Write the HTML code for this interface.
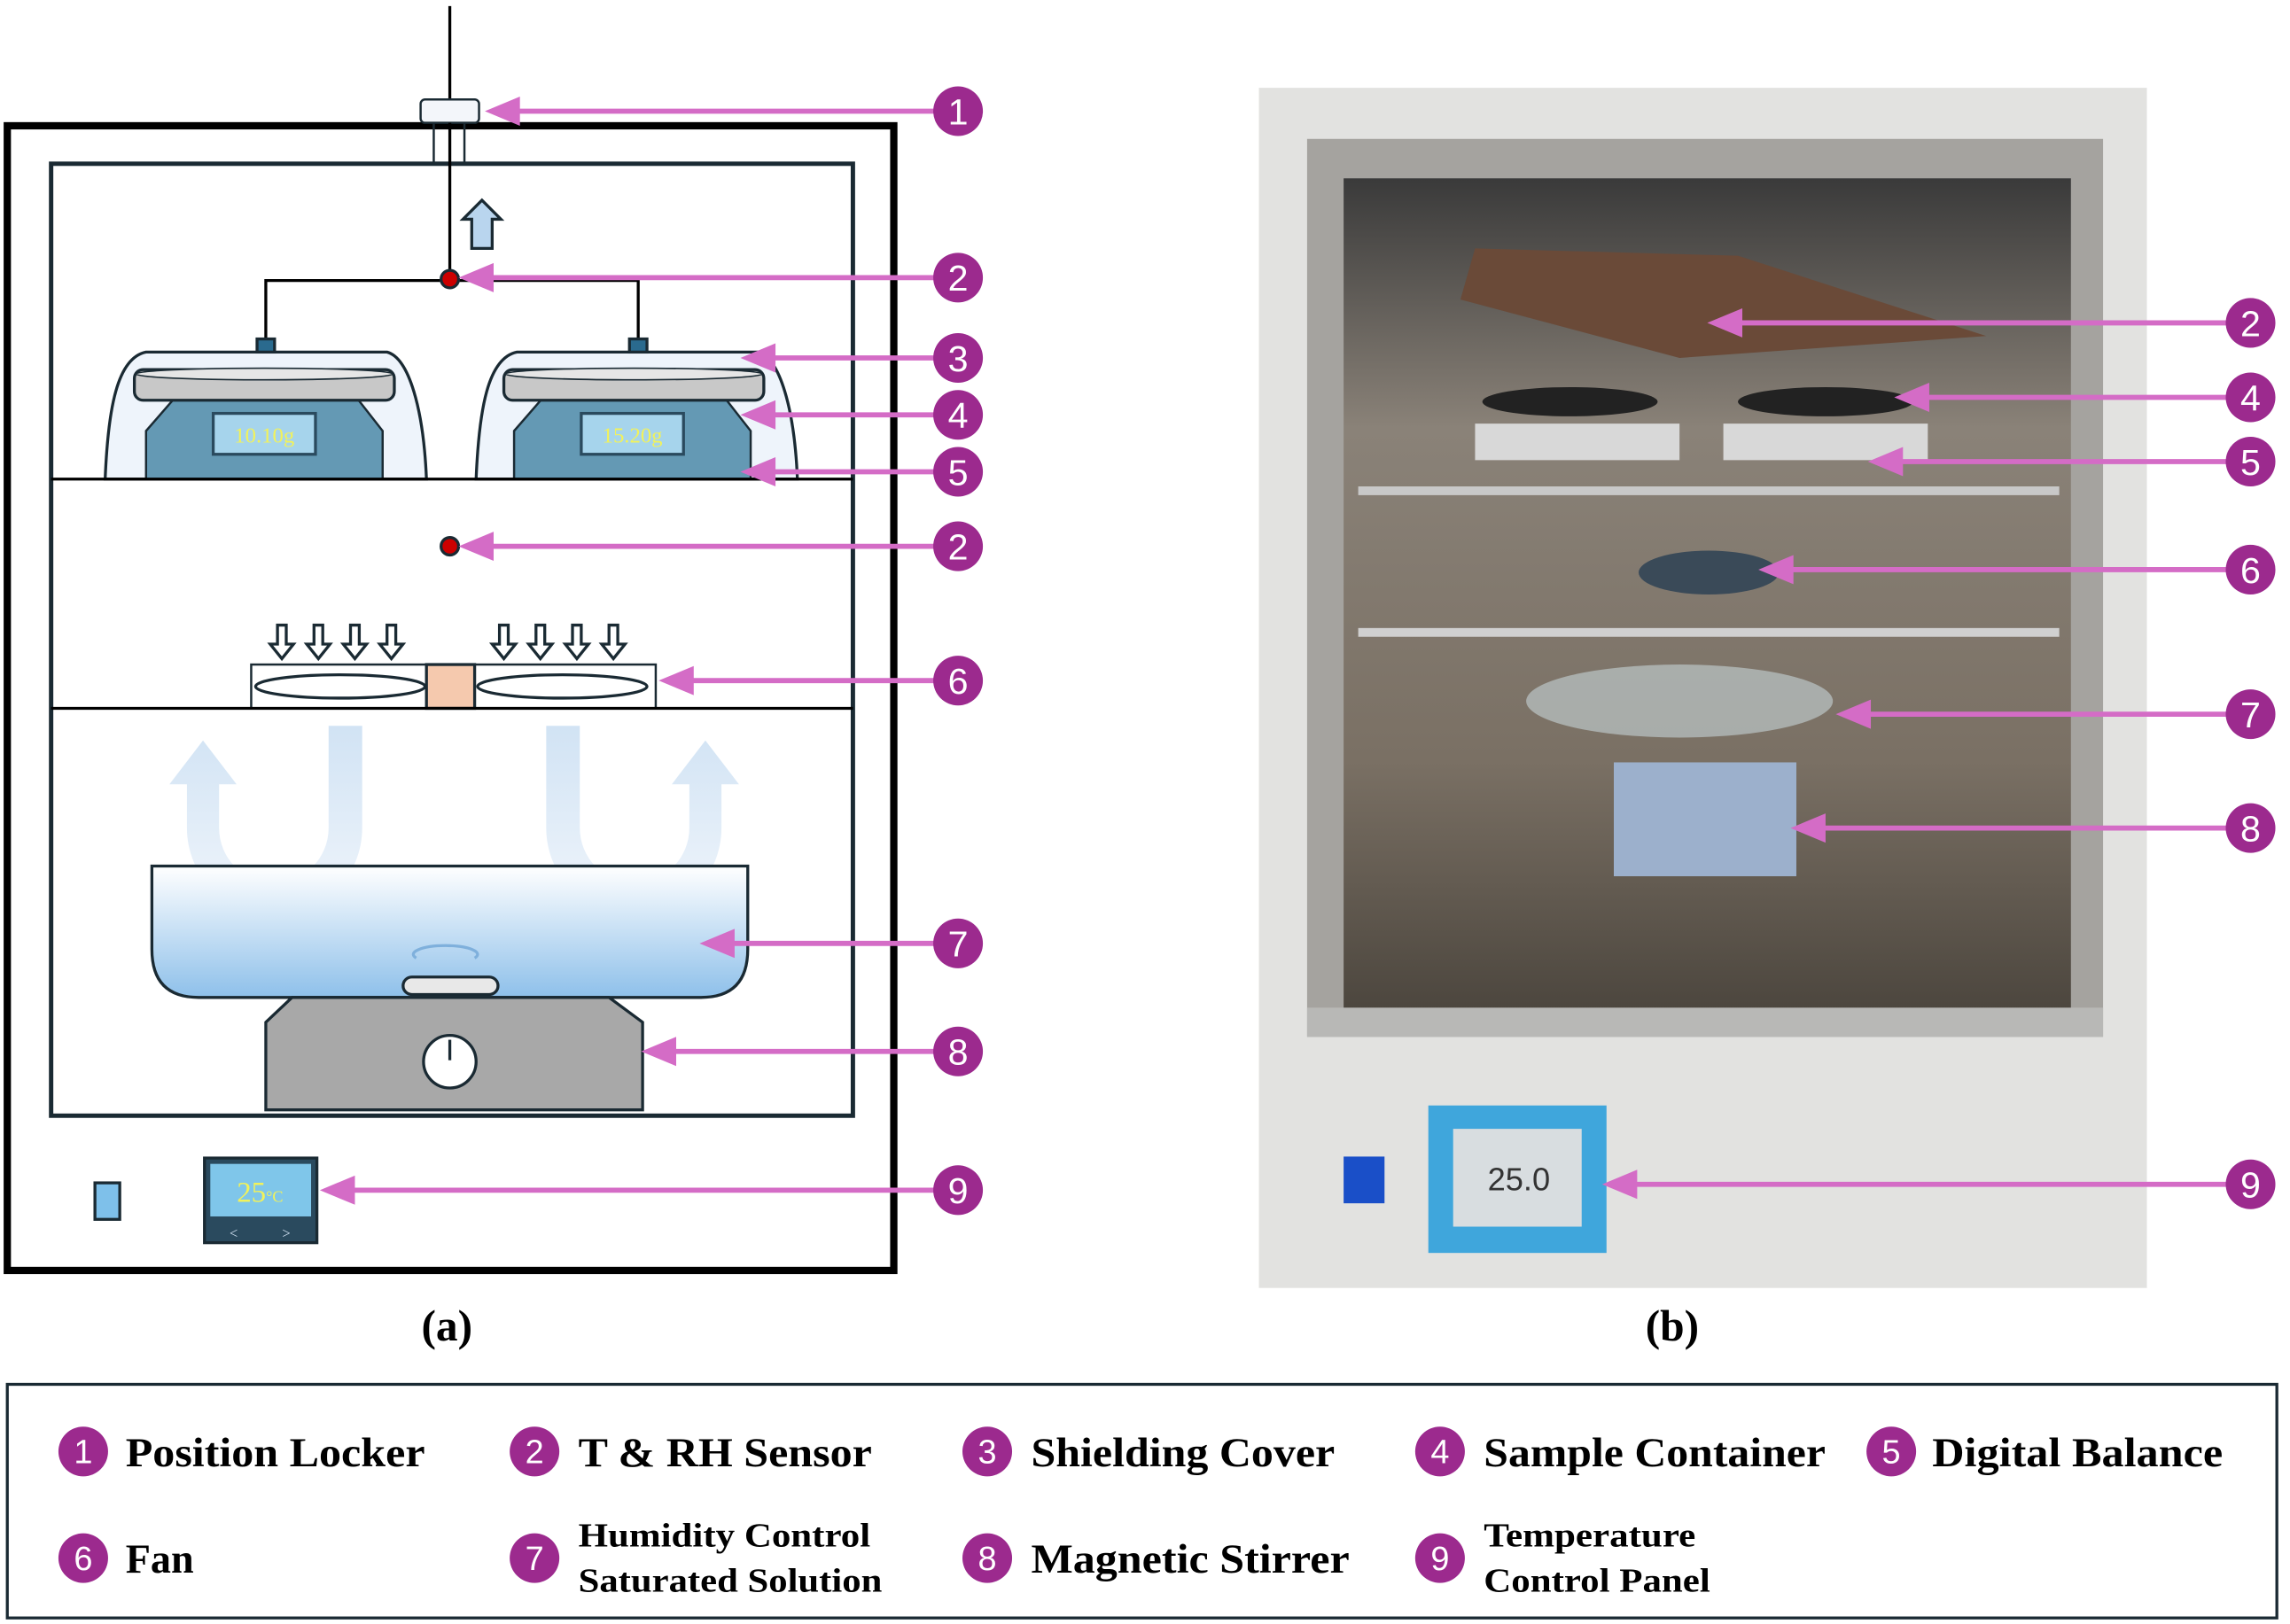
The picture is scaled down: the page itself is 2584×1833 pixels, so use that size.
<!DOCTYPE html>
<html><head><style>html,body{margin:0;padding:0;background:#fff}svg{display:block}</style></head><body>
<svg width="2584" height="1833" viewBox="0 0 1568 1112" xmlns="http://www.w3.org/2000/svg" font-family="Liberation Serif, serif">
<defs>
<linearGradient id="water" x1="0" y1="0" x2="0" y2="1"><stop offset="0" stop-color="#ffffff"/><stop offset="1" stop-color="#8ec0ea"/></linearGradient>
<linearGradient id="flow" x1="0" y1="0" x2="0" y2="1"><stop offset="0" stop-color="#c9def2"/><stop offset="1" stop-color="#eef4fb"/></linearGradient>
<linearGradient id="inside" x1="0" y1="0" x2="0" y2="1"><stop offset="0" stop-color="#3a3a3a"/><stop offset="0.3" stop-color="#8a8278"/><stop offset="0.7" stop-color="#7a7064"/><stop offset="1" stop-color="#4c463e"/></linearGradient>
</defs>
<!-- (a) diagram -->
<line x1="308" y1="4" x2="308" y2="70" stroke="#000" stroke-width="2"/>
<rect x="5" y="86" width="607" height="784" fill="none" stroke="#000" stroke-width="5"/>
<rect x="35" y="112" width="549" height="652" fill="none" stroke="#1a2a33" stroke-width="3"/>
<rect x="288" y="68" width="40" height="16" rx="3" fill="#f3f6fa" stroke="#1a2a33" stroke-width="1.5"/>
<line x1="297" y1="84" x2="297" y2="112" stroke="#1a2a33" stroke-width="1.5"/><line x1="318" y1="84" x2="318" y2="112" stroke="#1a2a33" stroke-width="1.5"/>
<line x1="308" y1="84" x2="308" y2="190" stroke="#000" stroke-width="2"/>
<path d="M323,170 v-20 h-6 l13,-13 l13,13 h-6 v20 z" fill="#b9d5ee" stroke="#1a2a33" stroke-width="2"/>
<path d="M182,232 V192 H437 V232" fill="none" stroke="#000" stroke-width="2"/>
<circle cx="308" cy="191" r="6" fill="#c00" stroke="#1a2a33" stroke-width="2"/>
<g stroke="#1a2a33" stroke-width="2">
<path d="M72,328 C74,280 80,245 100,241 L265,241 C280,245 290,280 292,328 Z" fill="#eef4fb"/>
<path d="M326,328 C328,280 334,245 354,241 L519,241 C534,245 544,280 546,328 Z" fill="#eef4fb"/>
<rect x="176" y="232" width="12" height="9" fill="#2a6a8e"/><rect x="431" y="232" width="12" height="9" fill="#2a6a8e"/>
<path d="M100,328 V295 L120,272 H244 L262,295 V328 Z" fill="#6499b4" stroke-width="1.5"/>
<path d="M352,328 V295 L372,272 H496 L514,295 V328 Z" fill="#6499b4" stroke-width="1.5"/>
<rect x="92" y="253" width="178" height="21" rx="6" fill="#c8c8c8"/><ellipse cx="181" cy="256" rx="88" ry="4" fill="#e6e6e6" stroke-width="1"/>
<rect x="345" y="253" width="178" height="21" rx="6" fill="#c8c8c8"/><ellipse cx="434" cy="256" rx="88" ry="4" fill="#e6e6e6" stroke-width="1"/>
<rect x="146" y="283" width="70" height="28" fill="#a6d4ec" stroke="#2a4a5e"/>
<rect x="398" y="283" width="70" height="28" fill="#a6d4ec" stroke="#2a4a5e"/>
</g>
<text x="181" y="303" font-size="15" fill="#f2f25a" text-anchor="middle">10.10g</text>
<text x="433" y="303" font-size="15" fill="#f2f25a" text-anchor="middle">15.20g</text>
<line x1="35" y1="328" x2="584" y2="328" stroke="#000" stroke-width="2"/>
<circle cx="308" cy="374" r="6" fill="#c00" stroke="#1a2a33" stroke-width="2"/>
<g stroke="#1a2a33" stroke-width="2" fill="#fff">
<path d="M190,428 v13 h-5 l8,10 l8,-10 h-5 v-13 z"/><path d="M215,428 v13 h-5 l8,10 l8,-10 h-5 v-13 z"/><path d="M240,428 v13 h-5 l8,10 l8,-10 h-5 v-13 z"/><path d="M265,428 v13 h-5 l8,10 l8,-10 h-5 v-13 z"/>
<path d="M342,428 v13 h-5 l8,10 l8,-10 h-5 v-13 z"/><path d="M367,428 v13 h-5 l8,10 l8,-10 h-5 v-13 z"/><path d="M392,428 v13 h-5 l8,10 l8,-10 h-5 v-13 z"/><path d="M417,428 v13 h-5 l8,10 l8,-10 h-5 v-13 z"/>
<rect x="172" y="455" width="277" height="30" stroke-width="1.5"/>
<ellipse cx="233" cy="470" rx="58" ry="8"/><ellipse cx="385" cy="470" rx="58" ry="8"/>
<rect x="292" y="455" width="33" height="30" fill="#f5c9ae"/>
</g>
<line x1="35" y1="485" x2="584" y2="485" stroke="#000" stroke-width="2"/>
<g fill="url(#flow)" opacity="0.85">
<path d="M225,497 h23 v70 a60,60 0 0 1 -120,0 v-30 h-12 l23,-30 l23,30 h-12 v30 a37,37 0 0 0 75,0 z"/>
<path d="M374,497 h23 v70 a37,37 0 0 0 75,0 v-30 h-12 l23,-30 l23,30 h-12 v30 a60,60 0 0 1 -120,0 z"/>
</g>
<path d="M104,593 H512 V650 Q512,683 480,683 H136 Q104,683 104,650 Z" fill="url(#water)" stroke="#1a2a33" stroke-width="2"/>
<path d="M182,700 L200,683 H417 L440,700 V760 H182 Z" fill="#a8a8a8" stroke="#1a2a33" stroke-width="2"/>
<circle cx="308" cy="727" r="18" fill="#fff" stroke="#1a2a33" stroke-width="2"/><line x1="308" y1="712" x2="308" y2="726" stroke="#1a2a33" stroke-width="2"/>
<rect x="276" y="669" width="65" height="12" rx="6" fill="#e8e8e8" stroke="#1a2a33" stroke-width="2"/>
<path d="M285,656 a22,6 0 1 1 40,0" fill="none" stroke="#7fb0dc" stroke-width="2"/>
<rect x="65" y="810" width="17" height="25" fill="#7ec0ea" stroke="#1a2a33" stroke-width="2"/>
<rect x="140" y="793" width="77" height="58" fill="#2a4a5e" stroke="#1a2a33" stroke-width="2"/>
<rect x="144" y="797" width="69" height="36" fill="#7fc6ea"/>
<text x="178" y="823" font-size="20" fill="#f2f25a" text-anchor="middle">25<tspan font-size="11">°C</tspan></text>
<text x="160" y="848" font-size="10" fill="#cde" text-anchor="middle">&lt;</text><text x="196" y="848" font-size="10" fill="#cde" text-anchor="middle">&gt;</text>
<!-- (b) photo approximation -->
<rect x="862" y="60" width="608" height="822" fill="#e2e2e0"/>
<rect x="895" y="95" width="545" height="615" fill="#a5a39f"/>
<rect x="920" y="122" width="498" height="570" fill="url(#inside)"/>
<polygon points="1010,170 1190,175 1360,230 1150,245 1000,205" fill="#6a4a38"/>
<rect x="930" y="333" width="480" height="6" fill="#c8c8c8"/>
<rect x="930" y="430" width="480" height="6" fill="#d0d0d0"/>
<rect x="1010" y="290" width="140" height="25" fill="#d8d8d8"/><rect x="1180" y="290" width="140" height="25" fill="#d8d8d8"/>
<ellipse cx="1075" cy="275" rx="60" ry="10" fill="#222"/><ellipse cx="1250" cy="275" rx="60" ry="10" fill="#222"/>
<ellipse cx="1170" cy="392" rx="48" ry="15" fill="#3a4a58"/>
<ellipse cx="1150" cy="480" rx="105" ry="25" fill="#bcc6c8" opacity="0.7"/>
<rect x="1105" y="522" width="125" height="78" fill="#9cb0cc"/>
<rect x="895" y="690" width="545" height="20" fill="#b8b8b6"/>
<rect x="920" y="792" width="28" height="32" fill="#1a4fc8"/>
<rect x="978" y="757" width="122" height="101" fill="#3fa6dc"/>
<rect x="995" y="773" width="88" height="67" fill="#d8dde0"/>
<text x="1040" y="815" font-size="22" fill="#333" text-anchor="middle" font-family="Liberation Sans, sans-serif">25.0</text>
<!-- callouts -->
<g stroke="#d46cc6" stroke-width="3.5">
<line x1="640" y1="76" x2="355" y2="76"/><line x1="640" y1="190" x2="337" y2="190"/><line x1="640" y1="245" x2="530" y2="245"/>
<line x1="640" y1="284" x2="530" y2="284"/><line x1="640" y1="323" x2="530" y2="323"/><line x1="640" y1="374" x2="337" y2="374"/>
<line x1="640" y1="466" x2="474" y2="466"/><line x1="640" y1="646" x2="502" y2="646"/><line x1="640" y1="720" x2="462" y2="720"/>
<line x1="640" y1="815" x2="242" y2="815"/>
<line x1="1525" y1="221" x2="1192" y2="221"/><line x1="1525" y1="272" x2="1320" y2="272"/><line x1="1525" y1="316" x2="1302" y2="316"/>
<line x1="1525" y1="390" x2="1227" y2="390"/><line x1="1525" y1="489" x2="1280" y2="489"/><line x1="1525" y1="567" x2="1249" y2="567"/>
<line x1="1525" y1="811" x2="1120" y2="811"/>
</g>
<g fill="#d46cc6">
<polygon points="332,76 356,66 356,86"/><polygon points="314,190 338,180 338,200"/><polygon points="507,245 531,235 531,255"/>
<polygon points="507,284 531,274 531,294"/><polygon points="507,323 531,313 531,333"/><polygon points="314,374 338,364 338,384"/>
<polygon points="451,466 475,456 475,476"/><polygon points="479,646 503,636 503,656"/><polygon points="439,720 463,710 463,730"/>
<polygon points="219,815 243,805 243,825"/>
<polygon points="1169,221 1193,211 1193,231"/><polygon points="1297,272 1321,262 1321,282"/><polygon points="1279,316 1303,306 1303,326"/>
<polygon points="1204,390 1228,380 1228,400"/><polygon points="1257,489 1281,479 1281,499"/><polygon points="1226,567 1250,557 1250,577"/>
<polygon points="1097,811 1121,801 1121,821"/>
</g>
<g font-family="Liberation Sans, sans-serif" font-size="25" fill="#fff" text-anchor="middle">
<g fill="#9c2a8e"><circle cx="656" cy="76" r="17"/><circle cx="656" cy="190" r="17"/><circle cx="656" cy="245" r="17"/><circle cx="656" cy="284" r="17"/><circle cx="656" cy="323" r="17"/><circle cx="656" cy="374" r="17"/><circle cx="656" cy="466" r="17"/><circle cx="656" cy="646" r="17"/><circle cx="656" cy="720" r="17"/><circle cx="656" cy="815" r="17"/>
<circle cx="1541" cy="221" r="17"/><circle cx="1541" cy="272" r="17"/><circle cx="1541" cy="316" r="17"/><circle cx="1541" cy="390" r="17"/><circle cx="1541" cy="489" r="17"/><circle cx="1541" cy="567" r="17"/><circle cx="1541" cy="811" r="17"/></g>
<text x="656" y="85">1</text><text x="656" y="199">2</text><text x="656" y="254">3</text><text x="656" y="293">4</text><text x="656" y="332">5</text><text x="656" y="383">2</text><text x="656" y="475">6</text><text x="656" y="655">7</text><text x="656" y="729">8</text><text x="656" y="824">9</text>
<text x="1541" y="230">2</text><text x="1541" y="281">4</text><text x="1541" y="325">5</text><text x="1541" y="399">6</text><text x="1541" y="498">7</text><text x="1541" y="576">8</text><text x="1541" y="820">9</text>
</g>
<text x="306" y="918" font-size="30" font-weight="bold" text-anchor="middle">(a)</text>
<text x="1145" y="918" font-size="30" font-weight="bold" text-anchor="middle">(b)</text>
<!-- legend -->
<rect x="5" y="948" width="1554" height="160" fill="none" stroke="#1a2a33" stroke-width="2"/>
<g font-family="Liberation Sans, sans-serif" font-size="23" fill="#fff" text-anchor="middle">
<g fill="#9c2a8e"><circle cx="57" cy="994" r="17"/><circle cx="366" cy="994" r="17"/><circle cx="676" cy="994" r="17"/><circle cx="986" cy="994" r="17"/><circle cx="1295" cy="994" r="17"/><circle cx="57" cy="1067" r="17"/><circle cx="366" cy="1067" r="17"/><circle cx="676" cy="1067" r="17"/><circle cx="986" cy="1067" r="17"/></g>
<text x="57" y="1002">1</text><text x="366" y="1002">2</text><text x="676" y="1002">3</text><text x="986" y="1002">4</text><text x="1295" y="1002">5</text><text x="57" y="1075">6</text><text x="366" y="1075">7</text><text x="676" y="1075">8</text><text x="986" y="1075">9</text>
</g>
<g font-size="28" font-weight="bold">
<text x="86" y="1004" textLength="205" lengthAdjust="spacingAndGlyphs">Position Locker</text><text x="396" y="1004" textLength="201" lengthAdjust="spacingAndGlyphs">T &amp; RH Sensor</text><text x="706" y="1004" textLength="208" lengthAdjust="spacingAndGlyphs">Shielding Cover</text><text x="1016" y="1004" textLength="234" lengthAdjust="spacingAndGlyphs">Sample Container</text><text x="1323" y="1004" textLength="199" lengthAdjust="spacingAndGlyphs">Digital Balance</text>
<text x="86" y="1077">Fan</text><text x="706" y="1077" textLength="218" lengthAdjust="spacingAndGlyphs">Magnetic Stirrer</text>
</g>
<g font-size="23" font-weight="bold">
<text x="396" y="1059" textLength="200" lengthAdjust="spacingAndGlyphs">Humidity Control</text><text x="396" y="1090" textLength="208" lengthAdjust="spacingAndGlyphs">Saturated Solution</text>
<text x="1016" y="1059" textLength="145" lengthAdjust="spacingAndGlyphs">Temperature</text><text x="1016" y="1090" textLength="155" lengthAdjust="spacingAndGlyphs">Control Panel</text>
</g>
</svg>
</body></html>
